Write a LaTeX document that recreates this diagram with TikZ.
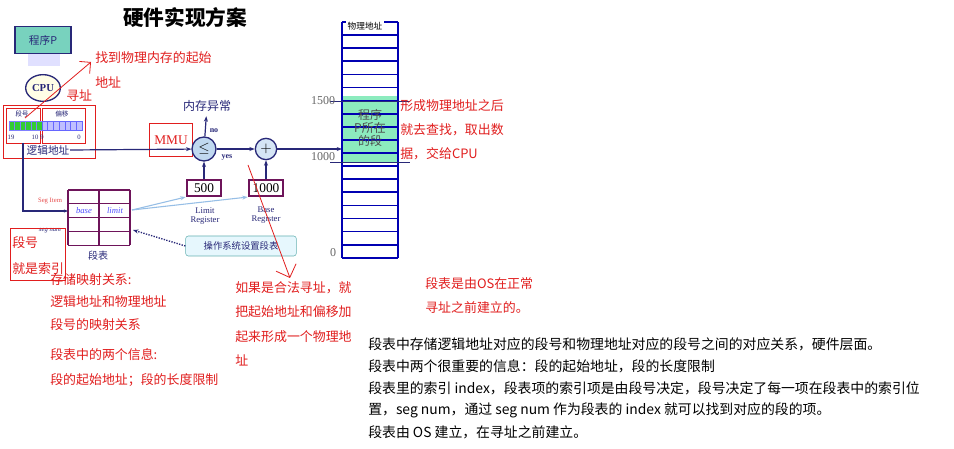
\documentclass[tikz,border=0pt]{standalone}
\usepackage{fontspec}
\setmainfont{Liberation Serif}
\newfontfamily\cjk{Noto Sans CJK SC}
\usetikzlibrary{arrows.meta,shapes.geometric}
\definecolor{myblue}{RGB}{40,40,120}
\definecolor{teal1}{RGB}{120,210,190}
\definecolor{green1}{RGB}{140,235,190}
\definecolor{purp}{RGB}{110,20,90}
\definecolor{ltblue}{RGB}{150,190,230}
\definecolor{redt}{RGB}{225,30,30}
\tikzset{
 red/.style={text=redt,font=\cjk\fontsize{9.7}{11}\selectfont,anchor=west,inner sep=0},
 blk/.style={text=black,font=\cjk\fontsize{10.4}{12}\selectfont,anchor=west,inner sep=0},
 ln/.style={draw=myblue,line width=0.9pt},
 reg/.style={draw=purp,line width=1.6pt,minimum width=26pt,minimum height=12pt,inner sep=0,font=\fontsize{10}{10}\selectfont},
 rl/.style={draw=redt,line width=0.6pt},
}
\begin{document}
\begin{tikzpicture}[x=0.75pt,y=-0.75pt]
\useasboundingbox (0,0) rectangle (954,449);
\fill[white] (0,0) rectangle (954,449);
\node[font=\cjk\bfseries\fontsize{15.5}{15.5}\selectfont] (title) at (185,18) {硬件实现方案};
% program P
\fill[blue!12] (28,54) rectangle (60,66);
\node[draw=myblue,fill=teal1,line width=1pt,minimum width=42pt,minimum height=20pt,font=\cjk\fontsize{8}{8}\selectfont,text=myblue] (prog) at (43,40) {程序\textit{P}};
\node[draw=myblue,fill=yellow!10,ellipse,line width=1pt,minimum width=26pt,minimum height=20pt,inner sep=0,font=\bfseries\fontsize{8}{8}\selectfont,text=myblue] (cpu) at (43,88) {CPU};
% logical address
\draw[rl] (3,105) rectangle (95,158);
\draw[rl] (6,108) rectangle (40,143);
\draw[rl] (42,108) rectangle (85,143);
\foreach \i in {0,...,5}{\draw[fill=green!75!black!80,draw=blue!50] (9+\i*5.5,121) rectangle +(5.5,9);}
\foreach \i in {0,...,6}{\draw[fill=blue!25,draw=blue!60] (42+\i*5.7,121) rectangle +(5.7,9);}
\node[font=\cjk\itshape\fontsize{5}{5}\selectfont,text=myblue] (dh) at (22,114) {段号};
\node[font=\cjk\itshape\fontsize{5}{5}\selectfont,text=myblue] (py) at (62,114) {偏移};
\node[font=\fontsize{5}{5}\selectfont,text=myblue] (n19) at (11,137) {19};
\node[font=\fontsize{5}{5}\selectfont,text=myblue] (n10) at (35,137) {10};
\node[font=\fontsize{5}{5}\selectfont,text=myblue] (n9) at (42,137) {9};
\node[font=\fontsize{5}{5}\selectfont,text=myblue] (n0) at (79,137) {0};
\node[font=\cjk\fontsize{8}{8}\selectfont,text=myblue] (la) at (48,150) {逻辑地址};
% MMU
\node[draw=redt,minimum width=32pt,minimum height=25pt,text=redt,font=\fontsize{10}{10}\selectfont] (mmu) at (171,140) {MMU};
\node[circle,draw=myblue,fill=ltblue!60,line width=1pt,minimum size=18pt,inner sep=0,font=\fontsize{11}{11}\selectfont] (cmp) at (204,149) {$\leq$};
\node[circle,draw=myblue,fill=ltblue!40,line width=1pt,minimum size=16pt,inner sep=0,font=\fontsize{11}{11}\selectfont] (plus) at (266,149) {$+$};
\coordinate (laend) at (70,150);
\coordinate (memin) at (342,149);
\draw[ln,-{Stealth[length=4pt]}] (laend) -- (cmp);
\draw[ln,-{Stealth[length=4pt]}] (cmp) -- (plus);
\draw[ln,-{Stealth[length=4pt]}] (plus) -- (memin);
\node[font=\cjk\fontsize{9}{9}\selectfont,text=myblue] (exc) at (207,106) {内存异常};
\draw[ln,-{Stealth[length=4pt]}] (cmp) -- (exc);
\node[font=\bfseries\fontsize{6}{6}\selectfont,text=myblue] (no) at (214,131) {no};
\node[font=\bfseries\fontsize{6}{6}\selectfont,text=myblue] (yes) at (227,157) {yes};
\node[reg] (r500) at (204,188) {500};
\node[reg] (r1000) at (266,188) {1000};
\draw[ln,-{Stealth[length=4pt]}] (r500) -- (cmp);
\draw[ln,-{Stealth[length=4pt]}] (r1000) -- (plus);
\node[align=center,font=\fontsize{6.5}{7}\selectfont,text=myblue] (lr) at (205,216) {Limit\\Register};
\node[align=center,font=\fontsize{6.5}{7}\selectfont,text=myblue] (br) at (266,215) {Base\\Register};
% segment table
\foreach \i in {0,...,4}{\draw[purp,line width=1pt] (68,190+\i*13.8) -- (130,190+\i*13.8);}
\foreach \x in {68,99,130}{\draw[purp,line width=1pt] (\x,190) -- (\x,245);}
\node[font=\itshape\fontsize{6.5}{6.5}\selectfont,text=blue!70] (base) at (84,211) {base};
\node[font=\itshape\fontsize{6.5}{6.5}\selectfont,text=blue!70] (limit) at (115,211) {limit};
\coordinate (segrow) at (68,211);
\coordinate (tabr) at (132,210);
\coordinate (tabr2) at (133,230);
\node[font=\cjk\fontsize{7.5}{7.5}\selectfont,text=myblue] (dbl) at (98,256) {段表};
\node[font=\fontsize{5}{5}\selectfont,text=redt!80] (si) at (50,201) {Seg Item};
\node[font=\itshape\fontsize{5}{5}\selectfont,text=myblue] (sn) at (50,231) {seg num};
\draw[myblue,line width=0.8pt,-{Stealth[length=3pt]}] (23,143) |- (segrow);
\draw[ltblue,line width=0.8pt,-{Stealth[length=4pt]}] (tabr) -- (r500.south west);
\draw[ltblue,line width=0.8pt,-{Stealth[length=4pt]}] (tabr) -- (r1000.south west);
\node[draw=teal!60,fill=cyan!10,rounded corners=2pt,minimum width=83pt,minimum height=15pt,font=\cjk\fontsize{7}{7}\selectfont,text=myblue] (os) at (241,246) {操作系统设置段表};
\draw[myblue,densely dotted,line width=1pt,-{Stealth[length=4pt]}] (os.west) -- (tabr2);
% memory
\fill[green1] (342,96) rectangle (398,162);
\foreach \i in {0,...,18}{\draw[blue!70!black,line width=1.3pt] (342,22+\i*13.1) -- (398,22+\i*13.1);}
\draw[blue!70!black,line width=1.3pt] (342,22) -- (342,258) (398,22) -- (398,258);
\draw[myblue] (330,101) -- (410,101) (330,162) -- (410,162);
\node[font=\cjk\fontsize{6.5}{6.5}\selectfont,fill=white,inner sep=1pt] (wl) at (365,26) {物理地址};
\node[font=\fontsize{9}{9}\selectfont,text=gray!80!black] (a1500) at (323,101) {1500};
\node[font=\fontsize{9}{9}\selectfont,text=gray!80!black] (a1000) at (323,157) {1000};
\node[font=\fontsize{9}{9}\selectfont,text=gray!80!black] (a0) at (333,253) {0};
\node[align=center,font=\cjk\fontsize{9}{9.5}\selectfont,text=gray!60!black] (pseg) at (370,128) {程序\\\textit{P}所在\\的段};
% red annotations
\draw[rl,-{Straight Barb[length=6pt]}] (25,118) -- (91,62);
\node[red] (t1) at (95,58) {找到物理内存的起始};
\node[red] (t2) at (95,82) {地址};
\node[red] (t3) at (66,96) {寻址};
\draw[rl] (10,228) rectangle (65,280);
\node[red] (t4) at (12,243) {段号};
\node[red] (t5) at (12,269) {就是索引};
\node[red] (t6) at (50,280) {存储映射关系:};
\node[red] (t7) at (50,302) {逻辑地址和物理地址};
\node[red] (t8) at (50,325) {段号的映射关系};
\node[red] (t9) at (50,355) {段表中的两个信息:};
\node[red] (t10) at (50,380) {段的起始地址；段的长度限制};
\draw[rl,-{Straight Barb[length=8pt]}] (248,165) -- (290,278);
\node[red] (t11) at (235,288) {如果是合法寻址，就};
\node[red] (t12) at (235,312) {把起始地址和偏移加};
\node[red] (t13) at (235,337) {起来形成一个物理地};
\node[red] (t14) at (235,360) {址};
\node[red] (t15) at (400,106) {形成物理地址之后};
\node[red] (t16) at (400,130) {就去查找，取出数};
\node[red] (t17) at (400,154) {据，交给CPU};
\node[red] (t18) at (425,284) {段表是由OS在正常};
\node[red] (t19) at (425,308) {寻址之前建立的。};
% black text
\node[blk] (b1) at (368,344) {段表中存储逻辑地址对应的段号和物理地址对应的段号之间的对应关系，硬件层面。};
\node[blk] (b2) at (368,366) {段表中两个很重要的信息：段的起始地址，段的长度限制};
\node[blk] (b3) at (368,388) {段表里的索引 index，段表项的索引项是由段号决定，段号决定了每一项在段表中的索引位};
\node[blk] (b4) at (368,410) {置，seg num，通过 seg num  作为段表的 index 就可以找到对应的段的项。};
\node[blk] (b5) at (368,432) {段表由 OS 建立，在寻址之前建立。};
\end{tikzpicture}
\end{document}
